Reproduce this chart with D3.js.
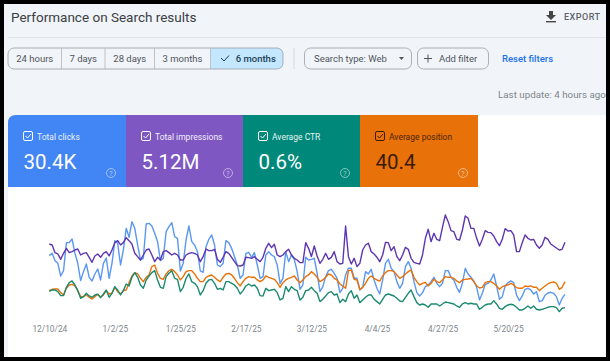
<!DOCTYPE html>
<html>
<head>
<meta charset="utf-8">
<script src="https://cdn.jsdelivr.net/npm/d3@7"></script>
<style>
  html, body { margin: 0; padding: 0; background: #000; }
  svg { display: block; font-family: Roboto, sans-serif; }
</style>
</head>
<body>
<div id="chart"></div>
<script>
// Values. The four lines have hidden axes of their own,
// so they are kept as relative levels on one shared scale.
const startDate = '2024-12-10';

const clicks = [
  163,170,148,140,102,118,202,202,213,170,140,88,115,138,98,87,108,123,90,140,
  156,95,140,208,200,135,180,245,218,265,245,195,150,155,258,260,252,230,205,148,
  155,235,250,262,220,215,117,140,210,252,205,195,175,117,113,190,212,225,195,135,130,
  140,208,202,185,160,135,95,105,170,173,158,172,135,95,100,165,175,165,160,135,
  80,95,175,145,165,152,115,62,75,158,150,152,155,110,55,70,100,118,122,110,
  95,52,65,105,125,125,95,95,60,68,115,108,122,90,65,48,90,140,152,125,115,85,65,
  80,130,145,125,85,52,42,52,70,75,85,98,80,70,80,118,118,98,90,68,
  53,80,125,108,98,87,68,30,50,77,80,90,108,72,32,40,72,82,87,82,
  45,28,42,62,65,60,48,55,25,28,44,51,53,50,40,15,35,47
];

const impressions = [
  198,195,172,168,152,170,185,172,175,180,183,165,170,172,158,143,162,168,158,170,
  175,162,180,202,208,195,202,217,208,198,170,160,150,165,180,183,165,145,158,150,
  175,178,172,165,170,165,150,150,165,170,172,170,165,145,160,183,178,178,182,152,143,
  158,175,170,158,145,133,132,135,158,157,155,160,152,145,158,185,200,187,197,165,
  160,165,175,182,165,155,150,142,142,202,185,160,192,162,140,152,170,152,158,175,
  145,138,140,252,160,138,155,130,140,180,195,200,175,168,158,145,165,203,202,
  178,190,160,148,165,188,182,155,143,140,138,165,215,242,205,230,212,208,248,285,
  265,238,235,212,210,240,282,275,245,245,215,192,212,238,233,232,222,205,193,212,
  244,237,238,225,175,175,202,225,215,210,212,195,185,195,218,212,198,192,186,180,182,203
];

const ctr = [
  56,60,60,55,43,43,68,82,87,75,58,35,40,50,42,38,45,47,37,48,
  60,38,50,70,60,45,58,78,72,98,112,98,75,65,90,102,112,118,90,68,
  65,100,110,118,95,92,55,68,95,108,85,80,70,45,58,80,90,92,80,62,65,
  60,85,85,80,75,65,48,58,72,78,72,75,65,43,42,65,58,60,62,52,
  30,35,70,55,70,62,58,30,38,58,60,68,58,50,25,32,42,52,55,45,
  48,22,32,25,48,58,35,45,22,30,38,45,45,32,25,18,32,45,48,
  45,42,35,27,25,38,50,60,40,22,15,18,15,8,18,18,18,12,18,24,
  22,20,18,12,8,18,22,18,20,18,18,2,8,15,18,18,28,18,5,2,
  10,15,17,15,8,0,0,5,12,5,12,2,0,2,5,8,10,10,7,-5,5,7
];

const position = [
  58,62,63,63,52,45,65,75,77,72,58,40,40,45,38,33,40,47,38,45,
  58,48,50,68,55,48,58,60,82,102,112,108,95,85,98,105,130,135,110,95,
  92,108,118,122,115,105,90,100,115,118,118,108,95,85,85,98,102,105,98,90,85,
  98,108,110,105,95,82,72,85,95,100,98,98,90,85,90,102,98,95,92,82,
  68,82,90,95,98,102,90,82,90,100,105,115,108,98,85,90,98,108,105,95,
  90,78,72,65,118,120,92,90,62,68,80,95,102,95,90,87,102,112,118,
  118,115,105,95,100,108,115,120,98,85,75,80,83,72,80,92,85,82,90,100,
  98,98,95,87,82,90,92,93,95,85,72,66,68,82,85,85,80,72,62,70,
  73,75,80,75,67,65,65,72,70,72,68,68,58,65,72,78,82,84,80,62,68,85
];

const tickDates = ['2024-12-10','2025-01-02','2025-01-25','2025-02-17','2025-03-12','2025-04-04','2025-04-27','2025-05-20'];

const rangeLabels = ['24 hours', '7 days', '28 days', '3 months', '6 months'];
const rangeEdges = [8, 61.5, 105, 154.5, 210.5, 283];

const cardTitles = ['Total clicks', 'Total impressions', 'Average CTR', 'Average position'];
const cardValues = ['30.4K', '5.12M', '0.6%', '40.4'];
const cardColors = ['#4285f4', '#7e57c2', '#00897b', '#e8710a'];
const cardInk = ['#fff', '#fff', '#fff', '#3a1c02'];
const cardEdges = [8, 126, 243, 360, 478];

const W = 610, H = 361;
const svg = d3.select('#chart').append('svg').attr('width', W).attr('height', H);

// Frame and page background
svg.append('rect').attr('x', 4).attr('y', 4).attr('width', 602).attr('height', 353).attr('fill', '#f1f4f9');
svg.append('path')
  .attr('d', 'M8 123 Q8 115 16 115 H606 V357 H8 Z')
  .attr('fill', '#fff');

// Header
svg.append('text').attr('x', 11).attr('y', 22)
  .attr('font-size', 13.5).attr('fill', '#3c4043').text('Performance on Search results');
svg.append('line').attr('x1', 8).attr('x2', 606).attr('y1', 37.5).attr('y2', 37.5).attr('stroke', '#dfe3e8');

const exportIcon = svg.append('g').attr('fill', '#444746');
exportIcon.append('path').attr('d', 'M549 11 H553 V15 H556 L551 20 L546 15 H549 Z');
exportIcon.append('rect').attr('x', 546).attr('y', 21).attr('width', 10).attr('height', 1.4);
svg.append('text').attr('x', 564).attr('y', 20).attr('font-size', 9)
  .attr('letter-spacing', 0.5).attr('font-weight', 500).attr('fill', '#5f6368').text('EXPORT');

// Date range buttons
svg.append('path')
  .attr('d', `M${rangeEdges[4]} 48 H277 Q283 48 283 54 V63 Q283 69 277 69 H${rangeEdges[4]} Z`)
  .attr('fill', '#c2e7ff');
svg.append('rect').attr('x', 8).attr('y', 48).attr('width', 275).attr('height', 21).attr('rx', 6)
  .attr('fill', 'none').attr('stroke', '#9aa0a6').attr('stroke-width', 0.8);
rangeEdges.slice(1, 5).forEach(e => {
  svg.append('line').attr('x1', e).attr('x2', e).attr('y1', 48).attr('y2', 69)
    .attr('stroke', '#b4b8bd').attr('stroke-width', 0.8);
});
rangeLabels.forEach((label, i) => {
  const mid = (rangeEdges[i] + rangeEdges[i + 1]) / 2;
  svg.append('text').attr('x', i === 4 ? mid + 9 : mid).attr('y', 62)
    .attr('text-anchor', 'middle').attr('font-size', 9.5)
    .attr('font-weight', i === 4 ? 500 : 400)
    .attr('fill', i === 4 ? '#1f3f56' : '#50555a').text(label);
});
svg.append('path').attr('d', 'M221 58 L224 61 L229 55.5').attr('fill', 'none')
  .attr('stroke', '#1f3f56').attr('stroke-width', 1);

// Filters
svg.append('line').attr('x1', 294).attr('x2', 294).attr('y1', 48).attr('y2', 69).attr('stroke', '#d5d8dc');
svg.append('rect').attr('x', 304.5).attr('y', 48).attr('width', 107).attr('height', 21).attr('rx', 6)
  .attr('fill', 'none').attr('stroke', '#9aa0a6').attr('stroke-width', 0.8);
svg.append('text').attr('x', 314).attr('y', 62).attr('font-size', 9.5).attr('fill', '#50555a').text('Search type: Web');
svg.append('path').attr('d', 'M399 57 H404 L401.5 60 Z').attr('fill', '#50555a');
svg.append('rect').attr('x', 417.5).attr('y', 48).attr('width', 71).attr('height', 21).attr('rx', 6)
  .attr('fill', 'none').attr('stroke', '#9aa0a6').attr('stroke-width', 0.8);
svg.append('path').attr('d', 'M428 54.5 V62.5 M424 58.5 H432').attr('stroke', '#50555a').attr('stroke-width', 1);
svg.append('text').attr('x', 439).attr('y', 62).attr('font-size', 9.5).attr('fill', '#50555a').text('Add filter');
svg.append('text').attr('x', 502).attr('y', 62).attr('font-size', 9.5).attr('font-weight', 500)
  .attr('fill', '#1a73e8').text('Reset filters');
svg.append('text').attr('x', 498).attr('y', 98).attr('font-size', 9.8).attr('fill', '#80868b').text('Last update: 4 hours ago');

// Metric cards
cardTitles.forEach((title, i) => {
  const x0 = cardEdges[i], x1 = cardEdges[i + 1], ink = cardInk[i];
  svg.append('path')
    .attr('d', i === 0
      ? `M${x0} 123 Q${x0} 115 ${x0 + 8} 115 H${x1} V187 H${x0} Z`
      : `M${x0} 115 H${x1} V187 H${x0} Z`)
    .attr('fill', cardColors[i]);
  const g = svg.append('g').attr('transform', `translate(${x0},115)`);
  g.append('rect').attr('x', 15.5).attr('y', 16.5).attr('width', 9).attr('height', 9).attr('rx', 1.5)
    .attr('fill', 'none').attr('stroke', ink).attr('stroke-width', 1);
  g.append('path').attr('d', 'M17.5 21 L19.5 23 L23 19').attr('fill', 'none').attr('stroke', ink).attr('stroke-width', 1);
  g.append('text').attr('x', 29).attr('y', 24.5).attr('font-size', 8.5).attr('fill', ink).attr('opacity', 0.9).text(title);
  g.append('text').attr('x', 15.5).attr('y', 54).attr('font-size', 20.5).attr('fill', ink).text(cardValues[i]);
  g.append('circle').attr('cx', x1 - x0 - 15).attr('cy', 58).attr('r', 4.5)
    .attr('fill', 'none').attr('stroke', '#fff').attr('stroke-opacity', 0.55).attr('stroke-width', 0.9);
  g.append('text').attr('x', x1 - x0 - 15).attr('y', 60.5).attr('text-anchor', 'middle').attr('font-size', 7)
    .attr('fill', '#fff').attr('opacity', 0.55).text('?');
});

// Scales
const parseDay = d3.utcParse('%Y-%m-%d');
const day0 = parseDay(startDate);
const dateAt = i => d3.utcDay.offset(day0, i);

const x = d3.scaleUtc()
  .domain([day0, parseDay(tickDates[7])])
  .range([49.3, 508]);
const y = d3.scaleLinear().domain([-10, 330]).range([313.3, 200]);

const line = d3.line()
  .x((d, i) => x(dateAt(i)))
  .y(d => y(d))
  .curve(d3.curveLinear);

// Series lines
[
  [clicks, '#5b97f2'],
  [impressions, '#5e35b1'],
  [position, '#e8710a'],
  [ctr, '#1b8a70']
].forEach(([values, color]) => {
  svg.append('path').datum(values)
    .attr('d', line)
    .attr('fill', 'none')
    .attr('stroke', color)
    .attr('stroke-width', 1.4)
    .attr('stroke-linejoin', 'round');
});

// X axis
const axis = svg.append('g')
  .attr('transform', 'translate(0,320)')
  .call(d3.axisBottom(x)
    .tickValues(tickDates.map(parseDay))
    .tickSize(0)
    .tickPadding(6)
    .tickFormat(d3.utcFormat('%-m/%-d/%y')));
axis.select('.domain').remove();
axis.selectAll('text')
  .attr('fill', '#80868b')
  .style('font-family', 'Roboto, sans-serif')
  .style('font-size', '8.3px');
</script>
</body>
</html>
